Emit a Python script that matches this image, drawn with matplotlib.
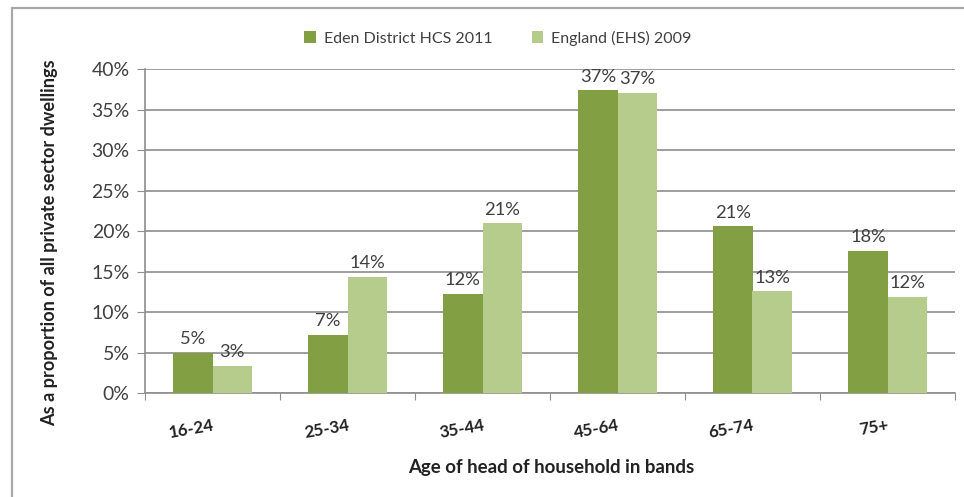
import matplotlib
matplotlib.use("Agg")
import matplotlib.pyplot as plt
from matplotlib.patches import Rectangle
import numpy as np

plt.rcParams['font.family'] = ['Lato', 'DejaVu Sans']

categories = ["16-24", "25-34", "35-44", "45-64", "65-74", "75+"]
eden = [5.0, 7.2, 12.3, 37.4, 20.6, 17.6]
england = [3.4, 14.4, 21.0, 37.1, 12.6, 11.9]
series_names = ["Eden District HCS 2011", "England (EHS) 2009"]
yticks = [0, 5, 10, 15, 20, 25, 30, 35, 40]
xlabel = "Age of head of household in bands"
ylabel = "As a proportion of all private sector dwellings"

dark = "#82A043"
light = "#B6CC8D"
grid_c = "#8E8E8E"
txt_c = "#404040"

W, H = 964, 497
fig = plt.figure(figsize=(W / 100, H / 100), dpi=100)
fig.patch.set_facecolor("white")
renderer = fig.canvas.get_renderer()


def fit_size(text, target_px, weight="normal"):
    t = fig.text(0, 0, text, fontsize=10, fontweight=weight)
    w = t.get_window_extent(renderer).width
    t.remove()
    return 10 * target_px / w


fs_ylabel = fit_size(ylabel, 367, "bold")
fs_xlabel = fit_size(xlabel, 287, "bold")
fs_legend = fit_size(series_names[0], 168)
fs_ytick = fit_size("40%", 38)
fs_data = fit_size("37%", 36)
fs_xtick = fit_size("16-24", 46, "bold")

# outer frame
fig.add_artist(Rectangle((12 / W, -0.1), 1.2, 1 - 8 / H + 0.1,
                         transform=fig.transFigure, fill=False,
                         edgecolor="#A8A8A8", linewidth=1.6))

left, right = 145 / W, 955 / W
bottom, top = 1 - 393.3 / H, 1 - 69.3 / H
ax = fig.add_axes([left, bottom, right - left, top - bottom])

x = np.arange(len(categories))
bw = 0.29
b1 = ax.bar(x - bw / 2, eden, bw, color=dark, label=series_names[0], zorder=3)
b2 = ax.bar(x + bw / 2, england, bw, color=light, label=series_names[1], zorder=3)

for bars, vals in ((b1, eden), (b2, england)):
    for rect, v in zip(bars, vals):
        ax.annotate(f"{v:.0f}%", (rect.get_x() + rect.get_width() / 2, v),
                    xytext=(0, 4), textcoords="offset points",
                    ha="center", va="bottom", fontsize=fs_data, color=txt_c,
                    zorder=4)

ax.set_xlim(-0.5, len(categories) - 0.5)
ax.set_ylim(0, 40)
ax.set_yticks(yticks)
ax.set_yticklabels([f"{t}%" for t in yticks], fontsize=fs_ytick, color=txt_c)
ax.yaxis.grid(True, color=grid_c, linewidth=1.2, zorder=0)
ax.set_axisbelow(True)

ax.set_xticks(np.arange(len(categories) + 1) - 0.5)
ax.set_xticklabels([])
ax.set_xticks(x, minor=True)
ax.set_xticklabels(categories, minor=True, fontsize=fs_xtick, fontweight="bold",
                   rotation=10, ha="right", rotation_mode="anchor",
                   color="#222222")
ax.tick_params(axis="x", which="minor", length=0, pad=17)
ax.tick_params(axis="x", which="major", length=5, color=grid_c, direction="out")
ax.tick_params(axis="y", length=6, color=grid_c, pad=5)

for s in ("top", "right"):
    ax.spines[s].set_visible(False)
for s in ("left", "bottom"):
    ax.spines[s].set_color(grid_c)
    ax.spines[s].set_linewidth(1.2)

fig.text(551 / W, 1 - 467 / H, xlabel,
         ha="center", va="center", fontsize=fs_xlabel, fontweight="bold",
         color="#222222")
fig.text(50 / W, 1 - 243 / H, ylabel,
         ha="center", va="center", rotation=90, fontsize=fs_ylabel,
         fontweight="bold", color="#222222")

leg = fig.legend(handles=[b1, b2], labels=series_names, loc="center",
                 bbox_to_anchor=(498 / W, 1 - 38 / H), ncol=2, frameon=False,
                 fontsize=fs_legend, handlelength=0.7, handleheight=0.7,
                 columnspacing=2.5, handletextpad=0.5)
for t in leg.get_texts():
    t.set_color(txt_c)

fig.savefig("out.png", dpi=100, facecolor="white")
